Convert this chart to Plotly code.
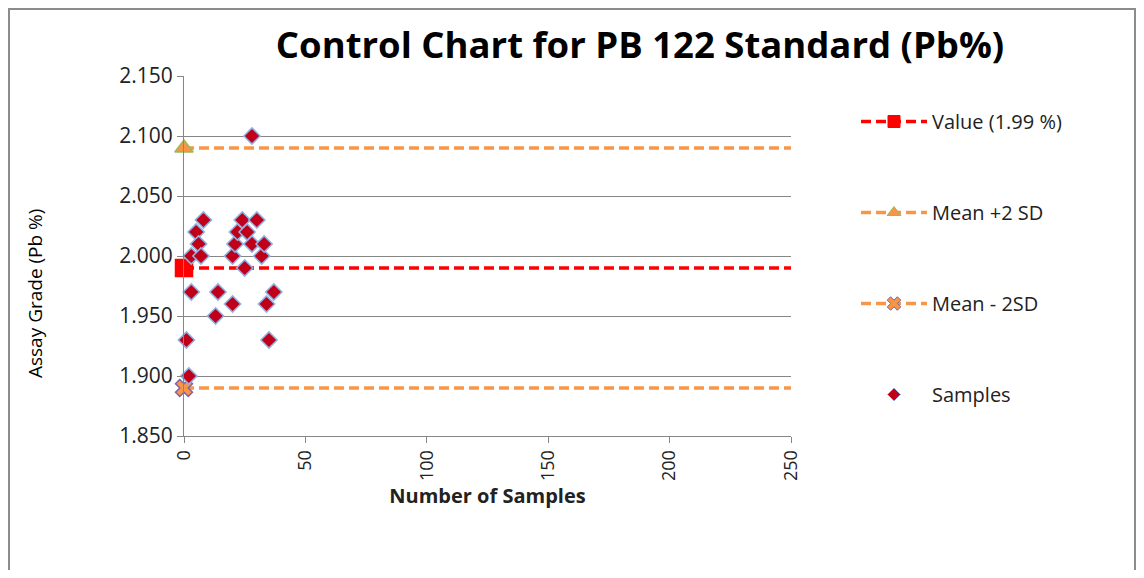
import plotly.graph_objects as go

# control limits
value_x = [0, 250]
value_y = [1.99, 1.99]
upper_y = [2.09, 2.09]
lower_y = [1.89, 1.89]

# samples
sample_x = [1, 2, 3, 3, 5, 6, 7, 8, 13, 14, 20, 20, 21, 22, 24, 25, 26, 28, 28, 30, 32, 33, 34, 35, 37]
sample_y = [1.93, 1.90, 2.00, 1.97, 2.02, 2.01, 2.00, 2.03, 1.95, 1.97, 2.00, 1.96, 2.01, 2.02, 2.03,
            1.99, 2.02, 2.10, 2.01, 2.03, 2.00, 2.01, 1.96, 1.93, 1.97]

FONT = "Open Sans"
dash = "10px,5px"
clear = 'rgba(0,0,0,0)'

series = [
    # name, y, line colour, symbol, fill, outline, size
    ('Value (1.99 %)', value_y, '#FF0000', 'square', '#FF0000', '#FF0000', 17),
    ('Mean +2 SD', upper_y, '#F79646', 'triangle-up', '#F79646', '#9BBB59', 16),
    ('Mean - 2SD', lower_y, '#F79646', 'x', '#F79646', '#8064A2', 15),
]

fig = go.Figure()

for i, (name, ys, col, sym, fill, edge, size) in enumerate(series):
    # marker only at the start of the line
    fig.add_trace(go.Scatter(
        x=value_x, y=ys, mode='lines+markers', name=name, showlegend=False,
        line=dict(color=col, width=3.5, dash=dash),
        marker=dict(symbol=sym, color=[fill, clear], size=size,
                    line=dict(color=[edge, clear], width=1.5)),
        cliponaxis=False))
    # legend entry with a smaller marker
    fig.add_trace(go.Scatter(
        x=[None], y=[None], mode='lines+markers', name=name, legendgroup=str(i),
        line=dict(color=col, width=3.5, dash=dash),
        marker=dict(symbol=sym, color=fill, size=12, line=dict(color=edge, width=1))))

fig.add_trace(go.Scatter(
    x=sample_x, y=sample_y, mode='markers', name='Samples', showlegend=False,
    marker=dict(symbol='diamond', color='#C0001A', size=12.5,
                line=dict(color='#8DB4E2', width=1.5)),
    cliponaxis=False))
fig.add_trace(go.Scatter(
    x=[None], y=[None], mode='markers', name='Samples', legendgroup='s',
    marker=dict(symbol='diamond', color='#C0001A', size=10,
                line=dict(color='#8DB4E2', width=1))))

fig.update_layout(
    width=1136, height=562,
    margin=dict(l=176, r=353, t=68, b=134),
    paper_bgcolor='white', plot_bgcolor='white',
    font=dict(family=FONT, size=18, color='#222'),
    title=dict(text='<b>Control Chart for PB 122 Standard (Pb%)</b>',
               x=632 / 1136, xanchor='center', y=1 - 37 / 562, yanchor='middle',
               font=dict(size=36.5, color='black', family=FONT)),
    showlegend=True,
    legend=dict(x=(856 - 184) / 607, xanchor='left', y=1 - 26 / 360, yanchor='top',
                tracegroupgap=62, font=dict(size=20, family=FONT),
                itemwidth=66, bgcolor='rgba(0,0,0,0)'),
    shapes=[dict(type='rect', xref='paper', yref='paper',
                 x0=-175 / 607, x1=(1127 - 176) / 607, y0=-160 / 360, y1=1 + 67 / 360,
                 line=dict(color='#8c8c8c', width=2))],
    annotations=[dict(text='Assay Grade (Pb %)', textangle=-90, xref='paper', yref='paper',
                      x=-149 / 607, y=1 - 218 / 360, xanchor='center', yanchor='middle',
                      showarrow=False, font=dict(size=19, color='black', family=FONT))],
)

fig.update_xaxes(range=[0, 250], tickvals=[0, 50, 100, 150, 200, 250], tickangle=-90,
                 tickfont=dict(size=18),
                 showgrid=False, zeroline=False, showline=True, linecolor='#868686', linewidth=1,
                 ticks='outside', ticklen=6, tickcolor='#868686',
                 title=dict(text='<b>Number of Samples</b>', font=dict(size=20), standoff=8))
fig.update_yaxes(range=[1.85, 2.15], dtick=0.05, tickformat='.3f',
                 tickfont=dict(size=21),
                 showgrid=True, gridcolor='#868686', gridwidth=1, zeroline=False,
                 showline=True, linecolor='#868686', linewidth=1,
                 ticks='outside', ticklen=6, tickcolor='#868686')

fig.write_html("out.html")
